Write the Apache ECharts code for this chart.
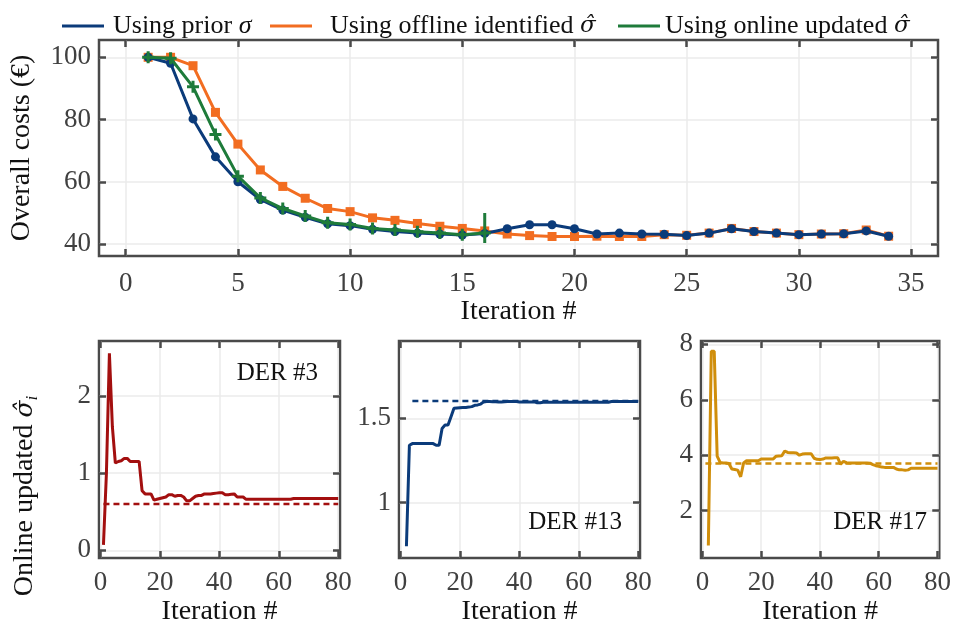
<!DOCTYPE html>
<html><head><meta charset="utf-8">
<script src="https://cdn.jsdelivr.net/npm/echarts@6/dist/echarts.min.js"></script>
<style>html,body{margin:0;padding:0;background:#fff}#c{width:954px;height:640px}</style>
</head><body><div id="c"></div>
<script>
// ---------- data ----------
const legendNames = ['Using prior σ', 'Using offline identified σ̂', 'Using online updated σ̂'];
const topIter = [1,2,3,4,5,6,7,8,9,10,11,12,13,14,15,16,17,18,19,20,21,22,23,24,25,26,27,28,29,30,31,32,33,34];
const priorCost = [100,98.1,80.2,68.0,60.0,54.3,50.9,48.6,46.5,45.9,44.7,44.0,43.5,43.2,42.9,43.4,44.9,46.2,46.2,44.9,43.2,43.5,43.2,43.1,42.7,43.5,44.9,44.0,43.5,43.0,43.2,43.3,44.2,42.5];
const offlineCost = [100,100,97.3,82.3,72.1,63.8,58.5,54.7,51.4,50.4,48.4,47.6,46.6,45.7,45.0,44.2,43.2,42.7,42.4,42.4,42.5,42.4,42.4,43.0,42.8,43.5,45.0,44.0,43.5,43.0,43.2,43.3,44.5,42.5];
const onlineCost = [100,99.7,90.5,75.2,61.8,54.8,51.4,49.0,46.8,46.3,45.0,44.5,43.9,43.5,43.0,43.5];
const xTicksTop = [0,5,10,15,20,25,30,35];
const yTicksTop = [40,60,80,100];

const derIter = [1,2,3,4,5,6,7,8,9,10,11,12,13,14,15,16,17,18,19,20,21,22,23,24,25,26,27,28,29,30,31,32,33,34,35,36,37,38,39,40,41,42,43,44,45,46,47,48,49,50,51,52,53,54,55,56,57,58,59,60,61,62,63,64,65,66,67,68,69,70,71,72,73,74,75,76,77,78,79,80];
const der3 = [0.07,1.0,2.55,1.6,1.13,1.15,1.16,1.19,1.19,1.15,1.15,1.15,1.15,0.77,0.73,0.73,0.73,0.65,0.66,0.67,0.68,0.69,0.72,0.72,0.70,0.71,0.71,0.69,0.64,0.64,0.67,0.70,0.71,0.71,0.73,0.73,0.73,0.735,0.74,0.745,0.745,0.72,0.72,0.725,0.73,0.69,0.69,0.69,0.66,
  0.66,0.66,0.66,0.66,0.66,0.66,0.66,0.66,0.66,0.66,0.66,0.66,0.66,0.66,0.66,
  0.67,0.67,0.67,0.67,0.67,0.67,0.67,0.67,0.67,0.67,0.67,0.67,0.67,0.67,0.67,0.67];
const der13 = [null,0.74,1.34,1.35,1.35,1.35,1.35,1.35,1.35,1.35,1.35,1.34,1.34,1.44,1.46,1.46,1.51,1.56,1.562,1.563,1.564,1.565,1.567,1.57,1.578,1.58,1.585,1.598,1.6,1.6,1.599,1.599,1.598,1.598,1.599,1.6,1.6,1.6,1.6,1.598,1.598,1.598,1.598,1.598,1.598,1.593,1.593,1.596,
  1.596,1.596,1.596,1.596,1.596,1.596,1.596,1.596,1.596,1.596,1.596,1.596,1.596,1.596,1.596,1.596,1.596,1.596,1.596,1.596,1.596,1.596,
  1.6,1.6,1.6,1.6,1.6,1.6,1.6,1.6,1.6,1.6];
const der17 = [null,0.74,7.75,7.75,3.97,3.74,3.72,3.72,3.7,3.5,3.48,3.46,3.22,3.72,3.8,3.8,3.8,3.8,3.8,3.86,3.86,3.86,3.86,3.86,3.96,3.97,3.98,4.15,4.1,4.09,4.09,4.08,4.0,4.04,4.05,4.05,4.05,3.89,3.85,3.84,3.86,3.9,3.9,3.9,3.91,3.91,3.67,3.78,3.73,
  3.72,3.72,3.72,3.72,3.72,3.72,3.72,3.71,3.66,3.62,3.6,3.57,3.56,3.56,3.56,3.56,3.5,3.47,3.47,3.46,3.47,3.53,
  3.53,3.53,3.53,3.53,3.53,3.53,3.53,3.53,3.53];
const derRef = [0.6, 1.603, 3.7];
const derRefStart = [1, 4, 1];
const derRefEnd = [80, 80, 80];
const derNames = ['DER #3', 'DER #13', 'DER #17'];
const xTicksDer = [0,20,40,60,80];
const yTicksDer = [[0,1,2],[1,1.5],[2,4,6,8]];

// ---------- style ----------
const F = '"Liberation Serif", "Times New Roman", serif';
const FH = '"DejaVu Serif", serif';
const frame = '#4a4a4a', gridC = '#ebebeb', tickTxt = '#404040', txt = '#111';
const cBlue = '#0b3b7a', cOrange = '#f26d21', cGreen = '#1e7b3a';
const derColors = ['#a30f0f', '#0b3b7a', '#d08e0b'];

const plusSym = 'path://M-1.5,-6 L1.5,-6 L1.5,-1.5 L6,-1.5 L6,1.5 L1.5,1.5 L1.5,6 L-1.5,6 L-1.5,1.5 L-6,1.5 L-6,-1.5 L-1.5,-1.5 Z';
const tallPlusSym = 'path://M-1.5,-20 L1.5,-20 L1.5,-1.5 L6,-1.5 L6,1.5 L1.5,1.5 L1.5,10 L-1.5,10 L-1.5,1.5 L-6,1.5 L-6,-1.5 L-1.5,-1.5 Z';

const grids = [
  {left:99, top:40, width:839, height:216},
  {left:99, top:341, width:241, height:217},
  {left:399, top:341, width:241, height:217},
  {left:701, top:341, width:241, height:217}
].map(g => Object.assign(g, {show:true, borderColor:frame, borderWidth:2.5, containLabel:false}));

const tickLine = {color:frame, width:2.5};
function xAxes(gi, min, max, ticks, margin, name, nameGap) {
  return [{
    type:'value', gridIndex:gi, position:'bottom', min, max,
    axisLine:{show:false, onZero:false},
    axisTick:{show:true, inside:true, length:7, customValues:ticks, lineStyle:tickLine},
    axisLabel:{show:true, customValues:ticks, margin, fontFamily:F, fontSize:27, color:tickTxt},
    splitLine:{show:true, lineStyle:{color:gridC, width:1.5}},
    name, nameLocation:'middle', nameGap,
    nameTextStyle:{fontFamily:F, fontSize:28, color:txt}
  }, {
    type:'value', gridIndex:gi, position:'top', min, max,
    axisLine:{show:false, onZero:false},
    axisTick:{show:true, inside:true, length:7, customValues:ticks, lineStyle:tickLine},
    axisLabel:{show:false}, splitLine:{show:false}
  }];
}
function yAxes(gi, min, max, ticks, name, nameGap) {
  const a = {
    type:'value', gridIndex:gi, position:'left', min, max,
    axisLine:{show:false, onZero:false},
    axisTick:{show:true, inside:true, length:7, customValues:ticks, lineStyle:tickLine},
    axisLabel:{show:true, customValues:ticks, margin:8, fontFamily:F, fontSize:27, color:tickTxt},
    splitLine:{show:true, lineStyle:{color:gridC, width:1.5}}
  };
  if (name) Object.assign(a, {name, nameLocation:'middle', nameGap, nameTextStyle:{fontFamily:F, fontSize:28, color:txt}});
  return [a, {
    type:'value', gridIndex:gi, position:'right', min, max,
    axisLine:{show:false, onZero:false},
    axisTick:{show:true, inside:true, length:7, customValues:ticks, lineStyle:tickLine},
    axisLabel:{show:false}, splitLine:{show:false}
  }];
}

const xAxis = [].concat(
  xAxes(0, -1.19, 36.2, xTicksTop, 14, 'Iteration #', 39),
  xAxes(1, -0.5, 80.6, xTicksDer, 11, 'Iteration #', 40),
  xAxes(2, -0.5, 80.6, xTicksDer, 11, 'Iteration #', 40),
  xAxes(3, -0.5, 80.6, xTicksDer, 11, 'Iteration #', 40)
);
const yAxis = [].concat(
  yAxes(0, 36.14, 105.56, yTicksTop, 'Overall costs (€)', 63),
  yAxes(1, -0.1, 2.71, yTicksDer[0]),
  yAxes(2, 0.67, 1.96, yTicksDer[1]),
  yAxes(3, 0.29, 8.12, yTicksDer[2])
);

const lineW = 3;
const series = [
  {name:legendNames[1], type:'line', xAxisIndex:0, yAxisIndex:0, z:2,
   data: offlineCost.map((v,i)=>[topIter[i], v]),
   color:cOrange, lineStyle:{width:lineW, color:cOrange},
   symbol:'rect', symbolSize:9, showAllSymbol:true, itemStyle:{color:cOrange}},
  {name:legendNames[0], type:'line', xAxisIndex:0, yAxisIndex:0, z:3,
   data: priorCost.map((v,i)=>[topIter[i], v]),
   color:cBlue, lineStyle:{width:lineW, color:cBlue},
   symbol:'circle', symbolSize:9, showAllSymbol:true, itemStyle:{color:cBlue}},
  {name:legendNames[2], type:'line', xAxisIndex:0, yAxisIndex:0, z:4,
   data: onlineCost.map((v,i)=> i === onlineCost.length-1
      ? {value:[topIter[i], v], symbol:tallPlusSym, symbolSize:[12,30], symbolOffset:[0,-5]}
      : [topIter[i], v]),
   color:cGreen, lineStyle:{width:lineW, color:cGreen},
   symbol:plusSym, symbolSize:12, showAllSymbol:true, itemStyle:{color:cGreen}}
];
[der3, der13, der17].forEach((arr, k) => {
  series.push({
    type:'line', xAxisIndex:2*(k+1), yAxisIndex:2*(k+1), z:2,
    data: arr.map((v,i)=>[derIter[i], v]).filter(p=>p[1]!==null),
    symbol:'none', lineStyle:{width:lineW, color:derColors[k]}, color:derColors[k]
  });
  series.push({
    type:'line', xAxisIndex:2*(k+1), yAxisIndex:2*(k+1), z:3,
    data: [[derRefStart[k], derRef[k]], [derRefEnd[k], derRef[k]]],
    symbol:'none', lineStyle:{width:2.5, color:derColors[k], type:[6,4]}
  });
});

function legendFmt(name) {
  const m = name.match(/^(.*?)(σ̂?)$/);
  return '{n|' + m[1] + '}{' + (m[2].length > 1 ? 'h' : 's') + '|' + m[2] + '}';
}
const legendText = (pad) => ({
  fontFamily:F, fontSize:26, color:txt, padding:[0,0,0,pad],
  rich:{n:{fontFamily:F, fontSize:26, color:txt},
        s:{fontFamily:F, fontSize:26, fontStyle:'italic', color:txt},
        h:{fontFamily:FH, fontSize:23, fontStyle:'italic', color:txt}}
});
const legend = [
  {data:[legendNames[0]], left:57, top:8, pad:4},
  {data:[legendNames[1]], left:265, top:8, pad:13},
  {data:[legendNames[2]], left:613, top:8, pad:0}
].map(l => ({
  data:l.data, left:l.left, top:l.top, icon:'rect', itemWidth:42, itemHeight:3,
  formatter:legendFmt, textStyle:legendText(l.pad), selectedMode:false
}));

const derLabelPos = [[318, 373], [622, 522], [927, 522]];
const graphic = derNames.map((t, k) => ({
  type:'text', x:derLabelPos[k][0], y:derLabelPos[k][1], z:10,
  style:{text:t, fontFamily:F, fontSize:25, fill:txt, align:'right', verticalAlign:'middle'}
}));
graphic.push({
  type:'text', x:25, y:496, rotation:Math.PI/2, z:10,
  style:{
    text:'{a|Online updated }{s|σ̂}{i|i}',
    align:'center', verticalAlign:'middle',
    rich:{
      a:{fontFamily:F, fontSize:28, fill:txt, lineHeight:32},
      s:{fontFamily:FH, fontSize:25, fontStyle:'italic', fill:txt, lineHeight:32},
      i:{fontFamily:F, fontSize:17, fontStyle:'italic', fill:txt, lineHeight:32, verticalAlign:'bottom'}
    }
  }
});

const chart = echarts.init(document.getElementById('c'), null, {renderer:'canvas'});
chart.setOption({
  animation:false, backgroundColor:'#fff',
  grid:grids, xAxis, yAxis, series, legend, graphic
});
</script></body></html>
